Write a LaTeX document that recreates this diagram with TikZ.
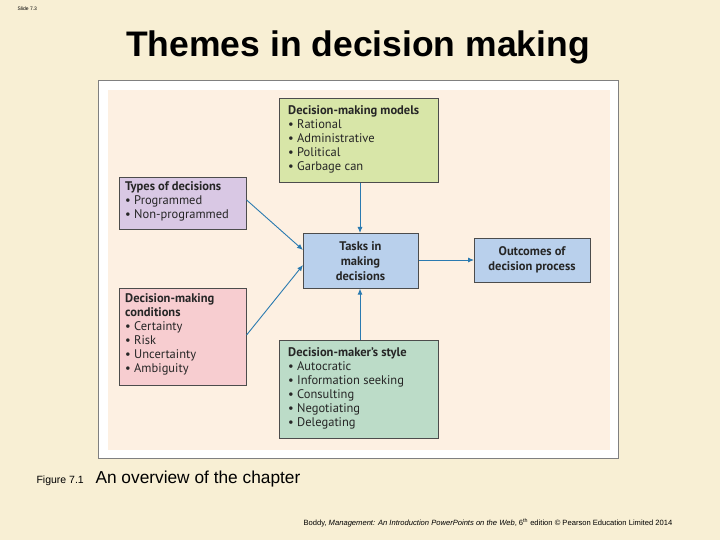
\documentclass[tikz,border=0pt]{standalone}
\usepackage{fontspec}
\setmainfont{Liberation Sans}
\newfontfamily\boxfont{PT Sans}
\usetikzlibrary{arrows.meta}
\definecolor{bg}{HTML}{F8EFD4}
\definecolor{panel}{HTML}{FDF0E2}
\definecolor{cgreen}{HTML}{D8E6A8}
\definecolor{cpurp}{HTML}{D9C8E4}
\definecolor{cblue}{HTML}{B9D0EC}
\definecolor{cpink}{HTML}{F7CDD0}
\definecolor{cteal}{HTML}{BCDCC8}
\definecolor{arr}{HTML}{2A7AB0}
\tikzset{
 bx/.style={draw=black!70,line width=0.6pt,anchor=north west,inner sep=0pt},
 bt/.style={anchor=north west,align=left,font=\boxfont\fontsize{12.5}{14}\selectfont,inner sep=0pt,text=black!85},
 ar/.style={draw=arr,line width=0.9pt,-{Latex[length=6pt,width=5pt]}}
}
\begin{document}
\begin{tikzpicture}[x=1pt,y=-1pt]
\fill[bg] (0,0) rectangle (720,540);
\useasboundingbox (0,0) rectangle (720,540);
\node[font=\fontsize{5}{6}\selectfont,anchor=north west] (slide) at (14,3) {Slide 7.3};
\node[font=\bfseries\fontsize{35.5}{40}\selectfont] (title) at (358,47) {Themes in decision making};
\draw[black!50,fill=white] (98,80) rectangle (618,458);
\fill[panel] (108,90) rectangle (610,450);
% boxes
\node[bx,fill=cgreen,minimum width=159pt,minimum height=84pt] (models) at (279,98) {};
\node[bt] (modelsT) at (288,105) {\textbf{Decision-making models}\\• Rational\\• Administrative\\• Political\\• Garbage can};
\node[bx,fill=cpurp,minimum width=127pt,minimum height=52pt] (types) at (119,177) {};
\node[bt] (typesT) at (125,181) {\textbf{Types of decisions}\\• Programmed\\• Non-programmed};
\node[bx,fill=cblue,minimum width=115pt,minimum height=55pt] (tasks) at (303,233) {};
\node[align=center,font=\boxfont\bfseries\fontsize{12.5}{15}\selectfont,text=black!85] (tasksT) at (360.5,261) {Tasks in\\making\\decisions};
\node[bx,fill=cblue,minimum width=116pt,minimum height=44pt] (out) at (474,238) {};
\node[align=center,font=\boxfont\bfseries\fontsize{12.5}{15}\selectfont,text=black!85] (outT) at (532,260) {Outcomes of\\decision process};
\node[bx,fill=cpink,minimum width=127pt,minimum height=97pt] (cond) at (119,288) {};
\node[bt] (condT) at (125,293) {\textbf{Decision-making}\\\textbf{conditions}\\• Certainty\\• Risk\\• Uncertainty\\• Ambiguity};
\node[bx,fill=cteal,minimum width=159pt,minimum height=98pt] (style) at (279,340) {};
\node[bt] (styleT) at (288,347) {\textbf{Decision-maker’s style}\\• Autocratic\\• Information seeking\\• Consulting\\• Negotiating\\• Delegating};
% arrows
\coordinate (tin) at (303,250);
\coordinate (cin) at (303,265);
\draw[ar] (types.east |- 0,200) -- (tin);
\draw[ar] (cond.east |- 0,335) -- (cin);
\draw[ar] (models.south -| 360,0) -- (tasks.north -| 360,0);
\draw[ar] (style.north -| 360,0) -- (tasks.south -| 360,0);
\draw[ar] (tasks.east |- 0,260) -- (out.west |- 0,260);
\node[anchor=base west,font=\fontsize{10.5}{12}\selectfont] (fig) at (33,483) {Figure 7.1};
\node[anchor=base west,font=\fontsize{17.3}{19}\selectfont] (cap) at (92,483) {An overview of the chapter};
\node[anchor=base west,font=\fontsize{7.6}{9}\selectfont] (foot) at (300,525) {Boddy, \textit{Management: An Introduction PowerPoints on the Web}, 6\textsuperscript{th} edition © Pearson Education Limited 2014};
\end{tikzpicture}
\end{document}
